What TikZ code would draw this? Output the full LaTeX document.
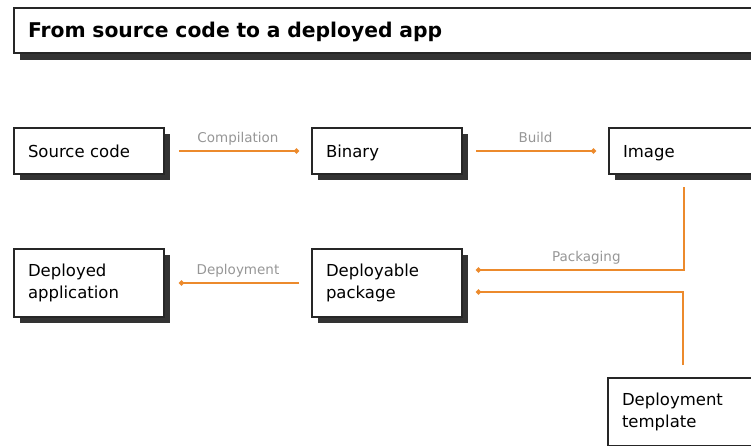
\documentclass[tikz,border=0pt]{standalone}
\usepackage{fontspec}
\setmainfont{DejaVu Sans}
\usetikzlibrary{positioning,shadows,arrows.meta}
\definecolor{arrowc}{RGB}{236,138,44}
\definecolor{labelc}{RGB}{150,150,150}

\begin{document}
\begin{tikzpicture}
  [
      x=1pt, y=-1pt,
      stage/.style={rectangle, draw=black!85, line width=1.3pt, fill=white, anchor=north west,
        outer sep=0pt, minimum width=150pt, minimum height=#1, text width=122pt, inner xsep=14pt,
        align=left, font=\fontsize{16.5}{22}\selectfont,
        general shadow={fill=black!80, shadow xshift=6pt, shadow yshift=-6pt}},
      stage/.default=46pt,
      oneline/.style={text height=12pt, text depth=0pt},
      flow/.style={draw=arrowc, line width=2pt, -{Circle[length=5pt]}},
      steplabel/.style={text=labelc, font=\fontsize{13.5}{16}\selectfont, text height=10pt,
        text depth=3pt, above=1pt},
    ]

    \useasboundingbox (0,0) rectangle (751,445);

    % heading bar, runs off the right edge
    \node (title) [rectangle, draw=black!85, line width=1.3pt, fill=white, anchor=north west,
      outer sep=0pt, minimum height=45pt, text width=760pt, inner xsep=14pt, align=left,
      text height=14.6pt, text depth=0pt, font=\fontsize{20.3}{24}\selectfont\bfseries,
      general shadow={fill=black!80, shadow xshift=6pt, shadow yshift=-7pt}]
      at (14,8) {From source code to a deployed app};

    % top row
    \node (src) [stage, oneline] at (14,128) {Source code};
    \node (bin) [stage, oneline, right=148pt of src] {Binary};
    \node (img) [stage, oneline, right=147pt of bin] {Image};

    % second row
    \node (app) [stage=68pt] at (14,249) {Deployed\\application};
    \node (pkg) [stage=68pt, right=148pt of app] {Deployable\\package};
    \node (tpl) [stage=68pt] at (608,378) {Deployment\\template};

    \draw [flow, shorten <=15pt, shorten >=13pt] (src) -- (bin) node [midway, steplabel] {Compilation};
    \draw [flow, shorten <=14pt, shorten >=13pt] (bin) -- (img) node [midway, steplabel] {Build};
    \draw [flow, shorten <=13pt, shorten >=14pt] (img.south) |- ([yshift=13pt]pkg.east)
      node [pos=0.72, steplabel] {Packaging};
    \draw [flow, shorten <=13pt, shorten >=14pt] (tpl.north) |- ([yshift=-9pt]pkg.east);
    \draw [flow, shorten <=13pt, shorten >=15pt] (pkg) -- (app) node [midway, steplabel] {Deployment};

  \end{tikzpicture}
\end{document}
